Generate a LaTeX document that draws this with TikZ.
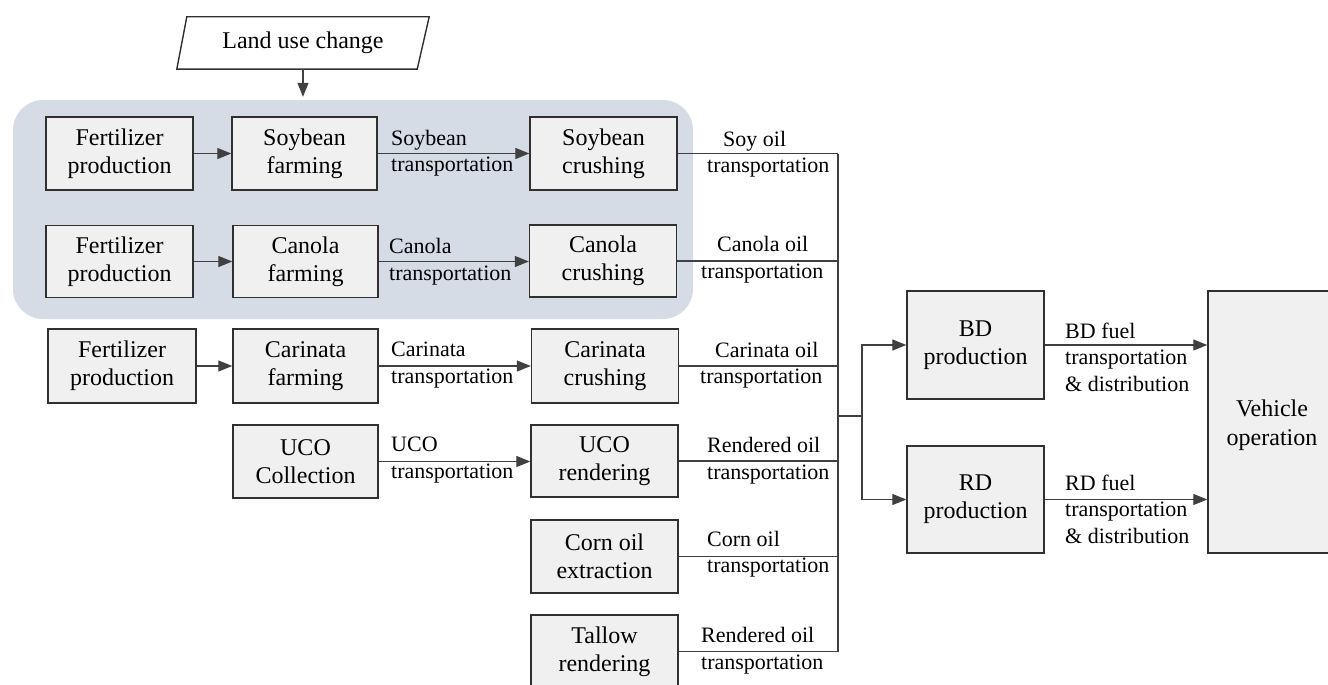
\documentclass[tikz,border=0pt]{standalone}
\usepackage{fontspec}
\setmainfont{Liberation Serif}
\usetikzlibrary{arrows.meta,calc}
\definecolor{boxfill}{HTML}{F0F0F0}
\definecolor{boxline}{HTML}{303030}
\definecolor{conline}{HTML}{404040}
\definecolor{grpfill}{HTML}{D5DCE6}
\tikzset{
  proc/.style={draw=boxline, fill=boxfill, line width=1.4pt, inner sep=0pt, align=center,
     font=\fontsize{24}{28}\selectfont},
  lbl/.style={inner sep=0pt, align=left, anchor=west, font=\fontsize{22}{26.5}\selectfont},
  con/.style={draw=conline, line width=1.2pt},
  arr/.style={con, -{Triangle[length=14pt,width=11pt]}},
}
\begin{document}
\begin{tikzpicture}[x=1pt,y=-1pt]
\useasboundingbox (0,0) rectangle (1328,685);
\clip (0,0) rectangle (1328,685);
% group background
\node[fill=grpfill, rounded corners=30pt, minimum width=680pt, minimum height=219pt, inner sep=0pt] (grp) at (353,209.5) {};
% land use change
\node[inner sep=0pt, minimum width=252pt, minimum height=52pt] (luc) at (303,43) {};
\draw[draw=boxline, line width=1.4pt, fill=white] ($(luc.north west)+(10,0)$) -- (luc.north east) -- ($(luc.south east)+(-12,0)$) -- (luc.south west) -- cycle;
\node[inner sep=0pt, font=\fontsize{24}{28}\selectfont] (luctxt) at (luc.center) {Land use change};
\draw[arr, shorten >=3pt] (luc.south) -- (luc.south |- grp.north);
% row 1
\node[proc, minimum width=147pt, minimum height=73pt] (fert1) at (119.5,153.5) {Fertilizer\\production};
\node[proc, minimum width=145pt, minimum height=73pt] (soyf) at (304.5,153.5) {Soybean\\farming};
\node[proc, minimum width=147pt, minimum height=73pt] (soyc) at (603.5,153.5) {Soybean\\crushing};
% row 2
\node[proc, minimum width=147pt, minimum height=72pt] (fert2) at (119.5,261.5) {Fertilizer\\production};
\node[proc, minimum width=145pt, minimum height=72pt] (canf) at (305.5,261.5) {Canola\\farming};
\node[proc, minimum width=147pt, minimum height=72pt] (canc) at (603,261) {Canola\\crushing};
% row 3
\node[proc, minimum width=148pt, minimum height=74pt] (fert3) at (122,366) {Fertilizer\\production};
\node[proc, minimum width=145pt, minimum height=74pt] (carf) at (305.5,366) {Carinata\\farming};
\node[proc, minimum width=147pt, minimum height=74pt] (carc) at (605,366) {Carinata\\crushing};
% row 4
\node[proc, minimum width=145pt, minimum height=73pt] (ucoc) at (305.5,461.5) {UCO\\Collection};
\node[proc, minimum width=147pt, minimum height=72pt] (ucor) at (604.5,461) {UCO\\rendering};
% row 5, 6
\node[proc, minimum width=147pt, minimum height=73pt] (corn) at (604.5,556.5) {Corn oil\\extraction};
\node[proc, minimum width=147pt, minimum height=73pt] (tall) at (604.5,651.5) {Tallow\\rendering};
% BD RD vehicle
\node[proc, minimum width=137pt, minimum height=108pt] (bd) at (975.5,345) {BD\\production};
\node[proc, minimum width=137pt, minimum height=107pt] (rd) at (975.5,499.5) {RD\\production};
\node[proc, minimum width=132pt, minimum height=262pt] (veh) at (1274,422) {};
\node[inner sep=0pt, align=center, font=\fontsize{24}{29}\selectfont] (vehtxt) at (1272,425) {Vehicle\\operation};
% left connectors
\draw[arr] (fert1.east) -- (soyf.west);
\draw[arr] (fert2.east) -- (canf.west);
\draw[arr] (fert3.east) -- (carf.west);
\draw[arr] (soyf.east) -- (soyf.east -| soyc.west);
\draw[arr] (canf.east) -- (canf.east -| canc.west);
\draw[arr] (carf.east) -- (carf.east -| carc.west);
\draw[arr] (ucoc.east) -- (ucoc.east -| ucor.west);
% transport labels
\node[lbl] (l1) at (391,153) {Soybean\\transportation};
\node[lbl] (l2) at (389,261.5) {Canola\\transportation};
\node[lbl] (l3) at (391,365) {Carinata\\transportation};
\node[lbl] (l4) at (391,460) {UCO\\transportation};
% bus
\coordinate (bus) at (838,0);
\coordinate (j1) at (838,416);
\coordinate (j2) at (862,416);
\draw[con] (soyc.east) -- (soyc.east -| bus);
\draw[con] (canc.east) -- (canc.east -| bus);
\draw[con] (carc.east) -- (carc.east -| bus);
\draw[con] (ucor.east) -- (ucor.east -| bus);
\draw[con] (corn.east) -- (corn.east -| bus);
\draw[con] (tall.east) -- (tall.east -| bus);
\draw[con] (bus |- soyc.east) -- (bus |- tall.east);
\draw[con] (j1) -- (j2);
\draw[arr] (j2) |- (bd.west);
\draw[arr] (j2) |- (rd.west);
\draw[arr] (bd.east) -- (bd.east -| veh.west);
\draw[arr] (rd.east) -- (rd.east -| veh.west);
% oil labels
\node[lbl] (o1) at (707,154) {\hspace*{16pt}Soy oil\\transportation};
\node[lbl] (o2) at (701,259.5) {\hspace*{16pt}Canola oil\\transportation};
\node[lbl] (o3) at (700,365) {\hspace*{15pt}Carinata oil\\transportation};
\node[lbl] (o4) at (707,460.5) {Rendered oil\\transportation};
\node[lbl] (o5) at (707,554) {Corn oil\\transportation};
\node[lbl] (o6) at (701,650.5) {Rendered oil\\transportation};
% fuel labels
\node[lbl] (f1) at (1065,357) {BD fuel\\transportation\\\& distribution};
\node[lbl] (f2) at (1065,509) {RD fuel\\transportation\\\& distribution};
\end{tikzpicture}
\end{document}
